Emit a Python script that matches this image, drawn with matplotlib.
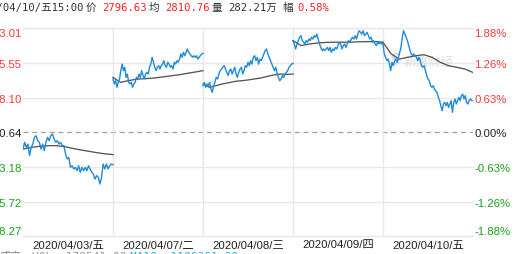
import matplotlib
matplotlib.use('Agg')
import matplotlib.pyplot as plt
import numpy as np

W, H = 519, 255
PREV_CLOSE = 2780.64

# y axis levels and their labels
price_levels = [2833.01, 2815.55, 2798.10, 2780.64, 2763.18, 2745.72, 2728.27]
price_labels = ['2833.01', '2815.55', '2798.10', '2780.64', '2763.18', '2745.72', '2728.27']
pct_labels = ['1.88%', '1.26%', '0.63%', '0.00%', '-0.63%', '-1.26%', '-1.88%']
level_colors = ['#f23b3b', '#f23b3b', '#f23b3b', '#222222', '#1aa01a', '#1aa01a', '#1aa01a']

day_labels = ['2020/04/03/五', '2020/04/07/二', '2020/04/08/三', '2020/04/09/四', '2020/04/10/五']

# minute price
day1_price = [2772.2, 2775.6, 2773.1, 2774.7, 2768.9, 2773.1, 2774.7, 2778.1, 2778.9, 2776.4,
              2775.6, 2772.2, 2774.7, 2771.4, 2775.6, 2778.1, 2776.4, 2778.9, 2779.8, 2777.3,
              2775.6, 2776.4, 2774.7, 2775.6, 2773.9, 2773.9, 2769.7, 2767.2, 2768.0, 2763.0,
              2763.8, 2762.2, 2763.0, 2761.3, 2763.8, 2760.5, 2763.0, 2761.3, 2763.0, 2761.3,
              2763.8, 2762.2, 2760.5, 2759.6, 2757.1, 2758.8, 2758.0, 2754.6, 2758.0, 2764.7,
              2762.2, 2764.7, 2762.2, 2763.8, 2764.7, 2764.3]
day2_price = [2807.5, 2805.0, 2806.6, 2803.3, 2805.8, 2807.5, 2811.7, 2815.0, 2811.7, 2813.4,
              2808.3, 2810.0, 2805.8, 2805.0, 2805.8, 2803.3, 2805.0, 2805.8, 2808.3, 2807.5,
              2810.0, 2808.3, 2811.7, 2809.2, 2807.5, 2810.0, 2810.8, 2810.0, 2813.4, 2815.0,
              2818.4, 2815.9, 2813.4, 2811.7, 2813.4, 2814.2, 2812.5, 2814.2, 2815.0, 2816.7,
              2814.2, 2813.4, 2815.9, 2815.0, 2813.4, 2814.2, 2812.5, 2815.9, 2815.0, 2816.7,
              2815.9, 2817.5, 2820.1, 2818.4, 2820.9, 2819.2, 2820.9, 2822.6, 2820.9, 2820.1,
              2819.2, 2818.4, 2819.2, 2818.4, 2819.2, 2817.5, 2818.4, 2819.2, 2820.1, 2820.4]
day3_price = [2804.1, 2805.8, 2803.3, 2805.0, 2804.1, 2805.8, 2802.4, 2800.8, 2804.1, 2805.8,
              2808.3, 2807.5, 2810.0, 2811.7, 2812.5, 2813.4, 2814.2, 2812.5, 2810.8, 2809.2,
              2811.7, 2812.5, 2810.0, 2811.7, 2813.4, 2810.0, 2808.3, 2810.8, 2812.5, 2813.4,
              2810.0, 2811.7, 2814.2, 2813.4, 2815.9, 2814.2, 2816.7, 2815.0, 2818.4, 2819.2,
              2816.7, 2818.4, 2815.0, 2817.5, 2816.7, 2818.4, 2820.1, 2821.8, 2822.6, 2820.1,
              2818.4, 2816.7, 2815.0, 2813.4, 2811.7, 2813.4, 2810.0, 2808.3, 2806.6, 2807.5,
              2809.2, 2808.3, 2810.0, 2810.8, 2811.7, 2813.4, 2814.2, 2815.0, 2815.4]
day4_price = [2826.8, 2825.1, 2822.6, 2825.1, 2826.8, 2828.5, 2829.3, 2826.8, 2826.0, 2825.1,
              2826.8, 2826.0, 2827.6, 2826.8, 2828.5, 2827.6, 2829.3, 2828.5, 2830.1, 2827.6,
              2825.1, 2823.4, 2821.8, 2822.6, 2821.8, 2822.6, 2823.4, 2821.8, 2823.4, 2820.9,
              2822.6, 2821.8, 2823.4, 2822.6, 2824.3, 2826.0, 2825.1, 2822.6, 2824.3, 2825.1,
              2823.4, 2825.1, 2826.8, 2826.0, 2827.6, 2828.5, 2827.6, 2829.3, 2827.6, 2830.1,
              2831.8, 2831.0, 2830.1, 2831.8, 2829.3, 2830.1, 2831.0, 2829.3, 2827.6, 2828.5,
              2826.0, 2826.8, 2825.1, 2824.3, 2826.0, 2825.1, 2826.0, 2825.1, 2825.4]
day5_price = [2825.1, 2820.1, 2818.4, 2816.7, 2817.5, 2815.0, 2811.7, 2815.9, 2814.2, 2816.7,
              2817.5, 2815.9, 2818.4, 2820.9, 2823.4, 2828.5, 2831.8, 2830.1, 2828.5, 2826.8,
              2824.3, 2821.8, 2820.1, 2819.2, 2820.1, 2819.2, 2818.4, 2816.7, 2818.4, 2816.7,
              2814.2, 2813.4, 2814.2, 2811.7, 2809.2, 2807.5, 2806.6, 2804.1, 2803.3, 2804.1,
              2802.4, 2801.6, 2800.8, 2798.2, 2796.6, 2794.0, 2791.5, 2794.9, 2795.7, 2794.0,
              2795.7, 2793.2, 2794.9, 2796.6, 2790.7, 2795.7, 2797.4, 2794.9, 2796.6, 2798.2,
              2796.6, 2799.1, 2799.9, 2797.4, 2799.1, 2795.7, 2794.9, 2796.6, 2797.4, 2796.6,
              2796.63]

# average price line per day
day1_avg = [2772.2, 2773.0, 2773.6, 2773.9, 2773.9, 2773.5, 2772.6, 2771.8, 2771.1, 2770.4, 2769.8, 2769.4]
day2_avg = [2808.3, 2805.8, 2806.6, 2807.3, 2807.6, 2807.8, 2808.2, 2808.7, 2809.2, 2809.7, 2810.4, 2811.0, 2811.7]
day3_avg = [2805.0, 2803.3, 2804.1, 2805.0, 2805.6, 2806.3, 2806.6, 2807.0, 2807.5, 2808.0, 2808.8, 2809.5, 2810.0, 2809.8, 2810.0]
day4_avg = [2826.8, 2824.3, 2825.1, 2825.6, 2825.9, 2826.0, 2826.0, 2826.0, 2826.2, 2826.3, 2826.3, 2826.0]
day5_avg = [2825.9, 2820.1, 2817.5, 2818.4, 2819.2, 2819.7, 2818.4, 2815.9, 2814.2, 2813.4, 2812.5, 2810.76]

prices = [day1_price, day2_price, day3_price, day4_price, day5_price]
avgs = [day1_avg, day2_avg, day3_avg, day4_avg, day5_avg]

MINUTES = 240
CJK = ['Liberation Sans', 'Noto Sans CJK SC']
MONO = ['DejaVu Sans Mono', 'Noto Sans CJK SC']


def px(x, y):
    # figure pixel (from top-left) -> figure fraction
    return x / W, 1 - y / H


def draw_chart(fig):
    left, top, right, bottom = 23, 29.3, 473, 237.3
    ax = fig.add_axes([left / W, 1 - bottom / H, (right - left) / W, (bottom - top) / H])
    ax.set_xlim(0, MINUTES * len(prices))
    ax.set_ylim(price_levels[-1], price_levels[0])

    # grid
    for lv in price_levels:
        if lv == PREV_CLOSE:
            ax.axhline(lv, color='#a0a0a0', lw=0.9, ls=(0, (4, 3)), zorder=1)
        else:
            ax.axhline(lv, color='#e8e8e8', lw=1.0, zorder=1, clip_on=False)
    for i in range(1, len(prices)):
        ax.axvline(i * MINUTES, color='#e8e8e8', lw=1.0, zorder=1)

    # watermark
    ax.text(0.845, 0.84, '新浪财经', transform=ax.transAxes, fontsize=9, color='#dddddd',
            style='italic', family=CJK, ha='left', va='center', zorder=2)
    ax.text(0.815, 0.85, 'S', transform=ax.transAxes, fontsize=11, color='#d8d8d8',
            style='italic', weight='bold', ha='left', va='center', zorder=2)

    for i in range(len(prices)):
        xp = np.linspace(i * MINUTES, (i + 1) * MINUTES, len(prices[i]))
        ax.plot(xp, prices[i], color='#1f8ad9', lw=1.0, zorder=4)
        xa = np.linspace(i * MINUTES, (i + 1) * MINUTES, len(avgs[i]))
        ax.plot(xa, avgs[i], color='#555555', lw=0.95, zorder=3)

    for s in ax.spines.values():
        s.set_visible(False)

    ax.set_yticks(price_levels, price_labels)
    ax.tick_params(axis='y', length=0, pad=1, labelsize=8.2)
    ticklabels = ax.get_yticklabels()
    for k, t in enumerate(ticklabels):
        t.set_color(level_colors[k])
        t.set_family('Liberation Sans')
    ticklabels[0].set_va('top')
    ticklabels[-1].set_va('bottom')

    ax.set_xticks([(i + 0.5) * MINUTES for i in range(len(day_labels))], day_labels)
    ax.tick_params(axis='x', length=0, pad=2.5, labelsize=8.2)
    for t in ax.get_xticklabels():
        t.set_family(CJK)
        t.set_color('#222222')

    ax2 = ax.twinx()
    ax2.set_ylim(ax.get_ylim())
    for s in ax2.spines.values():
        s.set_visible(False)
    ax2.set_yticks(price_levels, pct_labels)
    ax2.tick_params(axis='y', length=0, pad=1, labelsize=8.2)
    rl = ax2.get_yticklabels()
    for k, t in enumerate(rl):
        t.set_color(level_colors[k])
        t.set_family('Liberation Sans')
    rl[0].set_va('top')
    rl[-1].set_va('bottom')
    return ax


def draw_header(fig):
    # header strip, pieces placed by pixel position
    parts = [
        (84, '2020/04/10/五15:00', '#333333', 'right'),
        (86, '价', '#333333', 'left'),
        (102, '2796.63', '#ff1f1f', 'left'),
        (149, '均', '#333333', 'left'),
        (165, '2810.76', '#ff1f1f', 'left'),
        (212, '量', '#333333', 'left'),
        (228, '282.21万', '#333333', 'left'),
        (282, '幅', '#333333', 'left'),
        (297, '0.58%', '#ff1f1f', 'left'),
    ]
    for x, s, c, ha in parts:
        fig.text(*px(x, 8), s, color=c, ha=ha, va='center', fontsize=7.6, family=MONO)

    # bottom info line, cut by the figure edge
    fig.text(*px(22, 251.5), '成交', color='#888888', ha='right', va='top', fontsize=8, family=CJK)
    fig.text(*px(32, 251.5), 'VOL: 179541.00', color='#999999', ha='left', va='top', fontsize=8, family=MONO)
    fig.text(*px(130, 251.5), 'MA10: 1186361.30', color='#29b3d9', ha='left', va='top', fontsize=8, family=MONO)


def main():
    fig = plt.figure(figsize=(W / 100, H / 100), dpi=100)
    fig.patch.set_facecolor('white')
    draw_chart(fig)
    draw_header(fig)
    fig.savefig('out.png', dpi=100)


if __name__ == "__main__":
    main()
